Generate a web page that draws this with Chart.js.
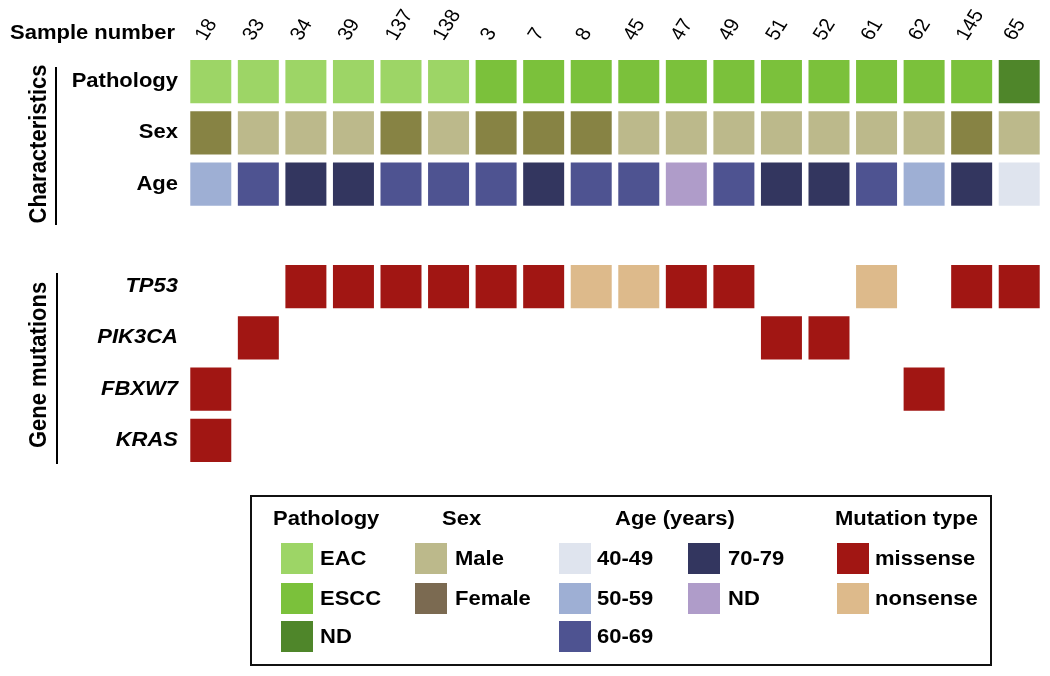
<!DOCTYPE html>
<html>
<head>
<meta charset="utf-8">
<script src="https://cdn.jsdelivr.net/npm/chart.js@4/dist/chart.umd.min.js"></script>
<style>
  html, body { margin: 0; padding: 0; background: #fff; }
  #wrap { width: 1050px; height: 676px; }
</style>
</head>
<body>
<div id="wrap"><canvas id="chart" width="1050" height="676"></canvas></div>
<script>
// Sample columns and per-sample annotations
const samples = ['18', '33', '34', '39', '137', '138', '3', '7', '8', '45', '47', '49', '51', '52', '61', '62', '145', '65'];
const pathology = ['EAC', 'EAC', 'EAC', 'EAC', 'EAC', 'EAC', 'ESCC', 'ESCC', 'ESCC', 'ESCC', 'ESCC', 'ESCC', 'ESCC', 'ESCC', 'ESCC', 'ESCC', 'ESCC', 'ND'];
const sex = ['Female', 'Male', 'Male', 'Male', 'Female', 'Male', 'Female', 'Female', 'Female', 'Male', 'Male', 'Male', 'Male', 'Male', 'Male', 'Male', 'Female', 'Male'];
const ageGroup = ['50-59', '60-69', '70-79', '70-79', '60-69', '60-69', '60-69', '70-79', '60-69', '60-69', 'ND', '60-69', '70-79', '70-79', '60-69', '50-59', '70-79', '40-49'];

// Gene mutations (null = wild type)
const tp53 = [null, null, 'missense', 'missense', 'missense', 'missense', 'missense', 'missense', 'nonsense', 'nonsense', 'missense', 'missense', null, null, 'nonsense', null, 'missense', 'missense'];
const pik3ca = [null, 'missense', null, null, null, null, null, null, null, null, null, null, 'missense', 'missense', null, null, null, null];
const fbxw7 = ['missense', null, null, null, null, null, null, null, null, null, null, null, null, null, null, 'missense', null, null];
const kras = ['missense', null, null, null, null, null, null, null, null, null, null, null, null, null, null, null, null, null];

const rowLabels = ['Pathology', 'Sex', 'Age', '', 'TP53', 'PIK3CA', 'FBXW7', 'KRAS'];
const geneRows = ['TP53', 'PIK3CA', 'FBXW7', 'KRAS'];

// Colours
const pathologyColors = { EAC: '#9dd566', ESCC: '#7bc13b', ND: '#4f862a' };
const sexColors = { Male: '#bcb98b', Female: '#878344' };
const sexLegendColors = { Male: '#bcb98b', Female: '#7b6a51' };
const ageColors = { '40-49': '#dfe4ee', '50-59': '#9eafd4', '60-69': '#4e5391', '70-79': '#33365f', 'ND': '#af9cc9' };
const mutationColors = { missense: '#a11613', nonsense: '#ddba8b' };

const FONT = '"Liberation Sans", Arial, sans-serif';

function rowDataset(values, colors, rowIndex) {
    return {
        label: rowLabels[rowIndex],
        data: values.map(v => v ? [rowIndex - 0.42, rowIndex + 0.42] : null),
        backgroundColor: values.map(v => v ? colors[v] : 'transparent'),
        borderWidth: 0,
        grouped: false,
        categoryPercentage: 1,
        barPercentage: 0.862
    };
}

function drawText(ctx, text, x, y, font, align, rotate) {
    ctx.save();
    ctx.translate(x, y);
    ctx.scale(1.1, 1);
    if (rotate) ctx.rotate(rotate);
    ctx.font = font;
    ctx.textAlign = align || 'left';
    ctx.textBaseline = 'middle';
    ctx.fillStyle = '#000';
    ctx.fillText(text, 0, 0);
    ctx.restore();
}

const labelsPlugin = {
    id: 'oncoLabels',
    afterDraw(chart) {
        const ctx = chart.ctx;
        const xs = chart.scales.x;
        const ys = chart.scales.y;

        // Header + sample numbers
        drawText(ctx, 'Sample number', 10, 33, 'bold 20px ' + FONT);
        samples.forEach((s, i) => {
            const cx = xs.getPixelForValue(i);
            drawText(ctx, s, cx - 10, 39, '19px ' + FONT, 'left', -60 * Math.PI / 180);
        });

        // Row labels
        rowLabels.forEach((lab, i) => {
            if (!lab) return;
            const italic = geneRows.includes(lab) ? 'italic ' : '';
            drawText(ctx, lab, 178, ys.getPixelForValue(i), italic + 'bold 20px ' + FONT, 'right');
        });

        // Group labels and bars
        drawText(ctx, 'Characteristics', 39, 144, 'bold 22px ' + FONT, 'center', -Math.PI / 2);
        drawText(ctx, 'Gene mutations', 39, 365, 'bold 22px ' + FONT, 'center', -Math.PI / 2);
        ctx.save();
        ctx.strokeStyle = '#000';
        ctx.lineWidth = 2;
        ctx.beginPath();
        ctx.moveTo(56, 67); ctx.lineTo(56, 225);
        ctx.moveTo(57, 273); ctx.lineTo(57, 464);
        ctx.stroke();
        ctx.restore();

        // Legend box
        ctx.save();
        ctx.strokeStyle = '#111';
        ctx.lineWidth = 2;
        ctx.strokeRect(251, 496, 740, 169);
        ctx.restore();

        const rowTops = [543, 583, 621];
        const bold = 'bold 20px ' + FONT;
        function swatch(x, top, color) {
            ctx.fillStyle = color;
            ctx.fillRect(x, top, 32, 31);
        }
        function group(title, tx, items, colors, sx, lx) {
            if (title) drawText(ctx, title, tx, 519, bold);
            items.forEach((it, k) => {
                const top = rowTops[k];
                swatch(sx, top, colors[it]);
                drawText(ctx, it, lx, top + 16, bold);
            });
        }
        group('Pathology', 273, ['EAC', 'ESCC', 'ND'], pathologyColors, 281, 320);
        group('Sex', 442, ['Male', 'Female'], sexLegendColors, 415, 455);
        group('Age (years)', 615, ['40-49', '50-59', '60-69'], ageColors, 559, 597);
        group(null, 0, ['70-79', 'ND'], ageColors, 688, 728);
        group('Mutation type', 835, ['missense', 'nonsense'], mutationColors, 837, 875);
    }
};

new Chart(document.getElementById('chart'), {
    type: 'bar',
    data: {
        labels: samples,
        datasets: [
            rowDataset(pathology, pathologyColors, 0),
            rowDataset(sex, sexColors, 1),
            rowDataset(ageGroup, ageColors, 2),
            rowDataset(tp53, mutationColors, 4),
            rowDataset(pik3ca, mutationColors, 5),
            rowDataset(fbxw7, mutationColors, 6),
            rowDataset(kras, mutationColors, 7)
        ]
    },
    options: {
        responsive: false,
        animation: false,
        layout: { padding: { left: 187, right: 7, top: 56, bottom: 210 } },
        plugins: {
            legend: { display: false },
            tooltip: { enabled: false }
        },
        scales: {
            x: { type: 'category', display: false, offset: true },
            y: { type: 'linear', display: false, min: -0.5, max: 7.5, reverse: true }
        }
    },
    plugins: [labelsPlugin]
});
</script>
</body>
</html>
